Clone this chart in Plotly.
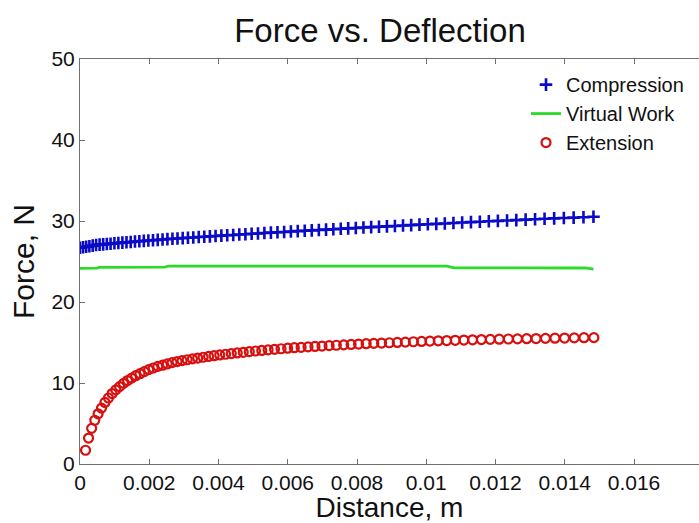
import plotly.graph_objects as go

# Compression test: distance (mm) and force (N)
compression_mm = [
    0.000, 0.088, 0.178, 0.271, 0.367, 0.465, 0.566, 0.669, 0.775, 0.883,
    0.994, 1.108, 1.224, 1.343, 1.464, 1.588, 1.714, 1.843, 1.974, 2.108,
    2.245, 2.384, 2.525, 2.670, 2.816, 2.966, 3.118, 3.272, 3.429, 3.589,
    3.751, 3.915, 4.083, 4.252, 4.425, 4.600, 4.777, 4.957, 5.140, 5.325,
    5.513, 5.703, 5.896, 6.091, 6.289, 6.490, 6.693, 6.898, 7.106, 7.317,
    7.531, 7.746, 7.965, 8.186, 8.409, 8.635, 8.864, 9.095, 9.329, 9.565,
    9.804, 10.046, 10.290, 10.536, 10.785, 11.037, 11.291, 11.548, 11.807, 12.069,
    12.334, 12.601, 12.870, 13.142, 13.417, 13.694, 13.974, 14.257, 14.541, 14.829,
]
compression_force = [
    26.70, 26.76, 26.82, 26.89, 26.96, 27.03, 27.08, 27.12, 27.16, 27.20,
    27.25, 27.29, 27.33, 27.37, 27.41, 27.46, 27.50, 27.55, 27.59, 27.63,
    27.67, 27.72, 27.76, 27.80, 27.84, 27.89, 27.93, 27.97, 28.02, 28.06,
    28.10, 28.15, 28.19, 28.24, 28.28, 28.33, 28.37, 28.42, 28.46, 28.51,
    28.56, 28.61, 28.65, 28.70, 28.75, 28.80, 28.84, 28.89, 28.94, 28.99,
    29.04, 29.09, 29.14, 29.19, 29.24, 29.29, 29.34, 29.39, 29.44, 29.49,
    29.55, 29.60, 29.65, 29.70, 29.76, 29.81, 29.86, 29.91, 29.96, 30.01,
    30.06, 30.11, 30.17, 30.22, 30.27, 30.32, 30.37, 30.42, 30.47, 30.52,
]

# Virtual work prediction
virtual_mm = [0.0, 0.50, 0.55, 2.45, 2.55, 10.6, 10.8, 14.6, 14.83]
virtual_force = [24.16, 24.18, 24.28, 24.30, 24.44, 24.44, 24.22, 24.20, 24.07]

# Extension test: distance (mm) and force (N)
extension_mm = [
    0.160, 0.247, 0.336, 0.428, 0.523, 0.620, 0.720, 0.822, 0.927, 1.034,
    1.144, 1.257, 1.372, 1.490, 1.609, 1.732, 1.857, 1.985, 2.114, 2.247,
    2.383, 2.520, 2.660, 2.803, 2.948, 3.096, 3.247, 3.399, 3.555, 3.713,
    3.873, 4.036, 4.202, 4.369, 4.541, 4.714, 4.889, 5.067, 5.249, 5.432,
    5.618, 5.806, 5.997, 6.190, 6.386, 6.585, 6.786, 6.989, 7.195, 7.404,
    7.616, 7.829, 8.045, 8.264, 8.485, 8.709, 8.935, 9.164, 9.396, 9.629,
    9.866, 10.106, 10.347, 10.591, 10.837, 11.087, 11.338, 11.593, 11.849, 12.108,
    12.371, 12.635, 12.901, 13.171, 13.443, 13.717, 13.994, 14.274, 14.556, 14.841,
]
extension_force = [
    1.70, 3.20, 4.40, 5.40, 6.20, 6.90, 7.60, 8.15, 8.70, 9.15,
    9.55, 9.95, 10.30, 10.60, 10.90, 11.15, 11.40, 11.65, 11.85, 12.05,
    12.20, 12.35, 12.52, 12.64, 12.76, 12.87, 12.98, 13.08, 13.18, 13.28,
    13.37, 13.46, 13.55, 13.63, 13.71, 13.79, 13.87, 13.95, 14.02, 14.09,
    14.16, 14.23, 14.30, 14.36, 14.41, 14.46, 14.51, 14.56, 14.61, 14.66,
    14.71, 14.76, 14.81, 14.85, 14.89, 14.93, 14.97, 15.01, 15.05, 15.09,
    15.13, 15.17, 15.21, 15.24, 15.27, 15.30, 15.33, 15.36, 15.39, 15.41,
    15.43, 15.45, 15.47, 15.49, 15.51, 15.53, 15.55, 15.57, 15.59, 15.60,
]

x_ticks = [0, 0.002, 0.004, 0.006, 0.008, 0.01, 0.012, 0.014, 0.016]
x_tick_labels = ["0", "0.002", "0.004", "0.006", "0.008", "0.01", "0.012", "0.014", "0.016"]
y_ticks = [0, 10, 20, 30, 40, 50]
y_tick_labels = ["0", "10", "20", "30", "40", "50"]

MM = 1e-3  # millimetres to metres

FONT = "Liberation Sans, Arial, sans-serif"
AXIS_GREY = "#707070"
BLUE = "rgb(10,10,200)"
GREEN = "rgb(40,220,40)"
RED = "rgb(215,15,15)"

fig = go.Figure()

fig.add_trace(go.Scatter(
    x=[v * MM for v in compression_mm], y=compression_force,
    mode="markers", name="Compression", legendgroup="c",
    marker=dict(symbol="cross-thin", size=9, color=BLUE,
                line=dict(color=BLUE, width=2.6)),
))
fig.add_trace(go.Scatter(
    x=[v * MM for v in virtual_mm], y=virtual_force,
    mode="lines", name="Virtual Work", legendgroup="v",
    line=dict(color=GREEN, width=2.8),
))
fig.add_trace(go.Scatter(
    x=[v * MM for v in extension_mm], y=extension_force,
    mode="markers", name="Extension", legendgroup="e",
    marker=dict(symbol="circle-open", size=9, color=RED,
                line=dict(color=RED, width=2.2)),
))

fig.update_layout(
    width=699, height=523,
    margin=dict(l=80, r=0, t=59, b=59),
    paper_bgcolor="white", plot_bgcolor="white",
    font=dict(family=FONT, color="black"),
    title=dict(text="Force vs. Deflection", font=dict(size=33, color="#111"),
               x=380 / 699, xanchor="center", xref="container",
               y=1 - 30 / 523, yanchor="middle", yref="container"),
    showlegend=True,
    legend=dict(x=(526 - 80) / 619, xanchor="left", y=0.985, yanchor="top",
                font=dict(size=20, color="#111"), bgcolor="rgba(0,0,0,0)",
                traceorder="grouped", tracegroupgap=0, itemwidth=30),
)

fig.update_xaxes(
    range=[0, 619 / 34625], tickvals=x_ticks, ticktext=x_tick_labels,
    showgrid=False, zeroline=False, showline=True, linecolor=AXIS_GREY, linewidth=1,
    mirror="ticks", ticks="inside", ticklen=5, tickcolor=AXIS_GREY,
    tickfont=dict(size=21, color="#111"),
    title=dict(text="Distance, m", font=dict(size=28, color="#111"), standoff=5),
)
fig.update_yaxes(
    range=[0, 50], tickvals=y_ticks, ticktext=y_tick_labels,
    showgrid=False, zeroline=False, showline=True, linecolor=AXIS_GREY, linewidth=1,
    ticks="inside", ticklen=5, tickcolor=AXIS_GREY,
    tickfont=dict(size=21, color="#111"),
    title=dict(text="Force, N", font=dict(size=30, color="#111"), standoff=7),
)

fig.write_html("out.html")
